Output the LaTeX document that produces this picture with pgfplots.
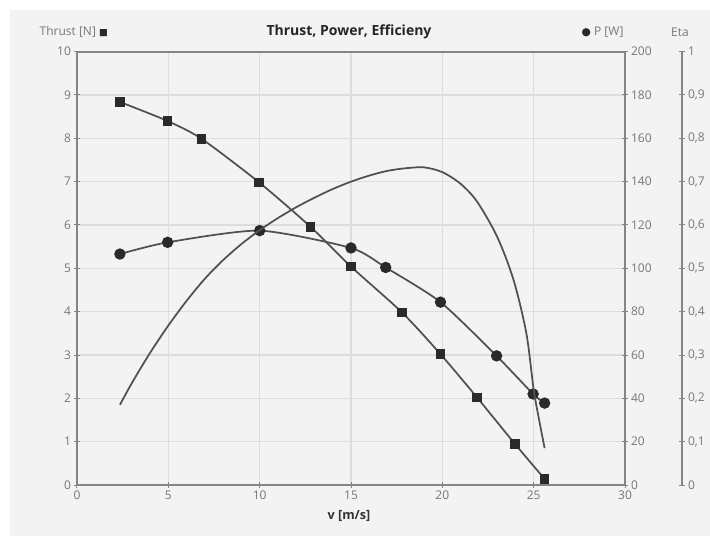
\documentclass[border=0pt]{standalone}
\usepackage{pgfplots}
\pgfplotsset{compat=1.18}
\usepackage{fontspec}
\setmainfont{Open Sans}
\newfontfamily\symfont{DejaVu Sans}
\definecolor{bggray}{HTML}{F3F3F3}
\definecolor{axgray}{HTML}{858585}
\definecolor{tickgray}{HTML}{777777}
\definecolor{gridgray}{HTML}{DDDDDD}
\definecolor{linegray}{HTML}{505050}
\definecolor{markgray}{HTML}{2A2A2A}

\pgfplotstableread{
v thrust
2.35 8.84
4.96 8.40
6.82 7.99
9.98 6.98
12.78 5.96
15.0 5.04
17.8 3.98
19.9 3.02
21.9 2.02
23.97 0.95
25.6 0.14
}\thrusttab

\pgfplotstableread{
v power
2.35 106.6
4.96 112.0
10.0 117.4
15.0 109.4
16.9 100.4
19.9 84.4
22.97 59.6
24.97 42.0
25.6 37.8
}\powertab

\pgfplotstableread{
v eta
2.35 0.185
3.0 0.235
4.0 0.305
5.0 0.368
6.0 0.425
7.0 0.476
8.0 0.519
9.0 0.556
10.0 0.588
11.0 0.616
12.0 0.641
13.0 0.663
14.0 0.683
15.0 0.700
16.0 0.714
17.0 0.725
18.0 0.731
19.0 0.733
20.0 0.722
21.0 0.695
21.9 0.654
23.0 0.573
23.9 0.473
24.6 0.350
25.0 0.220
25.3 0.150
25.6 0.085
}\etatab

\begin{document}
\begin{tikzpicture}
\begin{scope}[x=0.75pt,y=0.75pt]
\fill[white] (0,0) rectangle (710,536);
\fill[bggray] (10,0) rectangle (710,526);
\useasboundingbox (0,0) rectangle (710,536);
\node[font=\fontsize{10.5}{12}\selectfont\bfseries, text=black!85] at (349,504) {Thrust, Power, Efficieny};
\node[font=\fontsize{9}{10}\selectfont, text=tickgray, anchor=west] at (35,504) {Thrust [N] {\symfont\color{markgray}\fontsize{7}{8}\selectfont ■}};
\node[font=\fontsize{9}{10}\selectfont, text=tickgray, anchor=west] at (577,504) {{\symfont\color{markgray}\fontsize{8}{8}\selectfont ●} P [W]};
\node[font=\fontsize{9}{10}\selectfont, text=tickgray] at (680,504) {Eta};
\node[font=\fontsize{9.5}{10}\selectfont\bfseries, text=black!80] at (349,20) {v [m/s]};
\end{scope}

\pgfplotsset{
  common/.style={
    at={(57.75pt,38.25pt)}, anchor=south west,
    scale only axis, width=411pt, height=325pt,
    xmin=0, xmax=30,
    ticklabel style={font=\fontsize{9}{10}\selectfont, text=tickgray},
    /pgf/number format/assume math mode=true,
    tick style={axgray, line width=0.75pt},
    major tick length=4pt, tick align=center,
  }
}

\begin{axis}[common,
  ymin=0, ymax=10,
  xtick={0,5,...,30}, ytick={0,1,...,10},
  xtick pos=bottom, ytick pos=left,
  grid=major, major grid style={gridgray, line width=0.8pt},
  axis line style={axgray, line width=1.6pt},
  xticklabel style={yshift=1pt},
  yticklabel style={xshift=1pt},
]
\addplot[linegray, line width=1.3pt, smooth, tension=0.4, mark=square*,
  mark size=3pt, mark options={fill=markgray, draw=markgray, solid}]
  table[x=v, y=thrust] {\thrusttab};
\end{axis}

\begin{axis}[common,
  ymin=0, ymax=200,
  axis x line=none, axis y line*=right,
  y axis line style={axgray, line width=1.6pt, -},
  ytick={0,20,...,200},
  yticklabel style={anchor=west, xshift=-1pt},
]
\addplot[linegray, line width=1.3pt, smooth, tension=0.4, mark=*,
  mark size=3.6pt, mark options={fill=markgray, draw=markgray, solid}]
  table[x=v, y=power] {\powertab};
\end{axis}

\begin{axis}[common,
  ymin=0, ymax=1,
  axis x line=none, axis y line*=right,
  y axis line style={axgray, line width=1.6pt, -, xshift=42.75pt},
  ytick={0,0.1,0.2,0.3,0.4,0.5,0.6,0.7,0.8,0.9,1},
  ytick style={xshift=42.75pt},
  yticklabel style={anchor=west, xshift=41.75pt, /pgf/number format/use comma, /pgf/number format/fixed},
]
\addplot[linegray, line width=1.3pt, smooth, tension=0.5, mark=none]
  table[x=v, y=eta] {\etatab};
\end{axis}
\end{tikzpicture}
\end{document}
